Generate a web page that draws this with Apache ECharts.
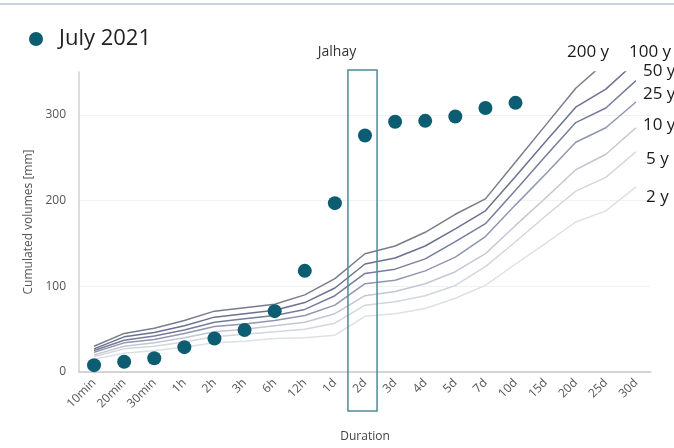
<!DOCTYPE html>
<html>
<head>
<meta charset="utf-8">
<script src="https://cdn.jsdelivr.net/npm/echarts@6/dist/echarts.min.js"></script>
<style>
  html, body { margin: 0; padding: 0; background: #fff; }
  #chart { width: 674px; height: 448px; }
</style>
</head>
<body>
<div id="chart"></div>
<script>
const durations = ['10min', '20min', '30min', '1h', '2h', '3h', '6h', '12h', '1d', '2d', '3d', '4d', '5d', '7d', '10d', '15d', '20d', '25d', '30d'];

// observed event (July 2021), only up to 10d
const july2021 = [8, 12, 16, 29, 39, 49, 71, 118, 197, 276, 292, 293, 298, 308, 314];

// return period curves
const rp200 = [30, 45, 51, 60, 71, 75, 79, 90, 109, 138, 147, 163, 184, 202, 245, 288, 331, 362, 392];
const rp100 = [27, 41, 46, 54, 64, 68, 72, 81, 98, 126, 133, 147, 167, 188, 228, 269, 309, 330, 362];
const rp50  = [25, 37, 42, 49, 58, 62, 66, 73, 89, 115, 120, 132, 152, 173, 212, 252, 291, 308, 340];
const rp25  = [23, 34, 38, 45, 53, 56, 60, 66, 78, 103, 107, 118, 134, 158, 195, 231, 268, 285, 315];
const rp10  = [20, 30, 34, 40, 47, 50, 54, 58, 68, 89, 94, 103, 117, 138, 171, 203, 236, 254, 285];
const rp5   = [18, 27, 30, 35, 41, 44, 47, 50, 57, 78, 82, 89, 101, 123, 152, 182, 211, 227, 257];
const rp2   = [15, 22, 25, 29, 34, 36, 39, 40, 43, 65, 68, 74, 86, 101, 126, 150, 175, 188, 216];

const curves = [
  { name: '200 y', data: rp200, color: '#7a7c8c' },
  { name: '100 y', data: rp100, color: '#6c7190' },
  { name: '50 y',  data: rp50,  color: '#767c9c' },
  { name: '25 y',  data: rp25,  color: '#9096b0' },
  { name: '10 y',  data: rp10,  color: '#c4c7d3' },
  { name: '5 y',   data: rp5,   color: '#d3d6de' },
  { name: '2 y',   data: rp2,   color: '#dde0e6' }
];

const highlighted = '2d';
const font = '"Open Sans", "Noto Sans", sans-serif';

const chart = echarts.init(document.getElementById('chart'));

const lineSeries = curves.map(c => ({
  name: c.name,
  type: 'line',
  data: c.data,
  symbol: 'none',
  z: 2,
  lineStyle: { color: c.color, width: 1.5 },
  emphasis: { disabled: true }
}));

// labels for the return periods, next to the line ends
const rpLabels = [
  { text: '200 y', left: 567, top: 44 },
  { text: '100 y', left: 629, top: 44 },
  { text: '50 y',  left: 643, top: 63 },
  { text: '25 y',  left: 643, top: 86 },
  { text: '10 y',  left: 643, top: 117 },
  { text: '5 y',   left: 646, top: 151 },
  { text: '2 y',   left: 646, top: 189 }
];

chart.setOption({
  animation: false,
  title: {
    text: 'Jalhay',
    left: 'center',
    top: 40,
    textStyle: { fontFamily: font, fontSize: 14, fontWeight: 'normal', color: '#333' }
  },
  legend: {
    data: [{ name: 'July 2021', icon: 'circle' }],
    left: 24,
    top: 23,
    itemWidth: 36,
    itemHeight: 14,
    textStyle: { fontFamily: font, fontSize: 22, color: '#222' }
  },
  grid: { left: 79, right: 23, top: 72, bottom: 74, containLabel: false },
  xAxis: {
    type: 'category',
    data: durations,
    boundaryGap: true,
    name: 'Duration',
    nameLocation: 'middle',
    nameGap: 59,
    nameTextStyle: { fontFamily: font, fontSize: 12, color: '#444' },
    axisLine: { lineStyle: { color: '#c8c8c8', width: 1.5 } },
    axisTick: { show: false },
    axisLabel: { rotate: 45, margin: 9, interval: 0, fontFamily: font, fontSize: 12, color: '#555' },
    splitLine: { show: false }
  },
  yAxis: {
    type: 'value',
    min: 0,
    max: 350,
    interval: 100,
    name: 'Cumulated volumes [mm]',
    nameLocation: 'middle',
    nameGap: 42,
    nameTextStyle: { fontFamily: font, fontSize: 12, color: '#555' },
    axisLine: { show: true, lineStyle: { color: '#d0d0d0', width: 1.5 } },
    axisTick: { show: false },
    axisLabel: { margin: 13, showMaxLabel: false, fontFamily: font, fontSize: 12, color: '#555' },
    splitLine: { lineStyle: { color: ['#f1f1f1', '#f1f1f1', '#f1f1f1', '#f1f1f1', 'rgba(0,0,0,0)'], width: 1 } }
  },
  series: [
    ...lineSeries,
    {
      name: 'July 2021',
      type: 'scatter',
      data: july2021,
      symbol: 'circle',
      symbolSize: 14,
      z: 5,
      itemStyle: { color: '#0d5d72', opacity: 1 }
    }
  ]
});

// frame round the highlighted duration, top stripe and return period labels
const cx = chart.convertToPixel({ xAxisIndex: 0 }, highlighted);
const band = chart.convertToPixel({ xAxisIndex: 0 }, durations[1]) - chart.convertToPixel({ xAxisIndex: 0 }, durations[0]);

chart.setOption({
  graphic: [
    {
      type: 'rect',
      shape: { x: cx - band / 2 - 2, y: 70, width: band - 1, height: 341 },
      style: { fill: 'none', stroke: '#4e8a97', lineWidth: 1.5 },
      z: 10
    },
    {
      type: 'rect',
      shape: { x: 0, y: 3, width: 674, height: 2 },
      style: { fill: '#c9d5e2' }
    },
    ...rpLabels.map(l => ({
      type: 'text',
      left: l.left,
      top: l.top,
      style: { text: l.text, font: '17px ' + font, fill: '#1a1a1a' }
    }))
  ]
});
</script>
</body>
</html>
